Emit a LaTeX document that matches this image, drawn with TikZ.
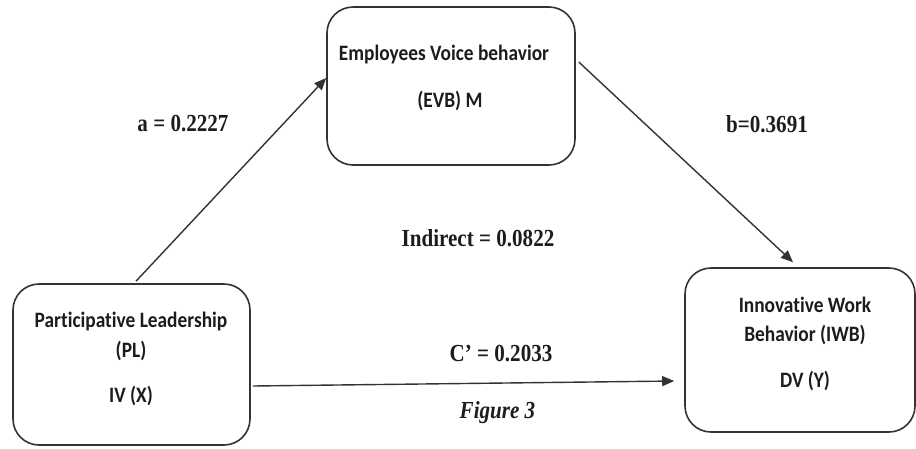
\documentclass[tikz,border=0pt]{standalone}
\usepackage{fontspec}
\usetikzlibrary{arrows.meta}
\newfontfamily\boxfont[FakeStretch=0.88,Ligatures=NoCommon]{Carlito}
\newfontfamily\lblfont[FakeStretch=0.86]{Liberation Serif}
\definecolor{ink}{HTML}{1C1C1C}
\definecolor{edge}{HTML}{333333}

\tikzset{
  varbox/.style={draw=edge, line width=1.6pt, rounded corners=26pt,
    minimum width=#1, inner sep=0pt},
  boxtext/.style={anchor=base, inner sep=0pt, text=ink,
    font=\boxfont\bfseries\fontsize{22}{26}\selectfont},
  coef/.style={anchor=base, inner sep=0pt, text=ink,
    font=\lblfont\bfseries\fontsize{24.5}{28}\selectfont},
  caption/.style={anchor=base, inner sep=0pt, text=ink,
    font=\lblfont\bfseries\itshape\fontsize{24.5}{28}\selectfont},
  path/.style={draw=edge, line width=1.4pt,
    -{Triangle[length=12pt,width=10pt]}}
}

\begin{document}
\begin{tikzpicture}[x=1pt,y=-1pt]
  \useasboundingbox (0,0) rectangle (916,448);

  % the three variables
  \node[varbox=248pt, minimum height=158pt] (evb) at (451,86) {};
  \node[varbox=237pt, minimum height=161pt] (pl)  at (131.5,364.5) {};
  \node[varbox=230pt, minimum height=164pt] (iwb) at (800,350) {};

  % box captions
  \node[boxtext] (evb1) at (444,60)  {Employees Voice behavior};
  \node[boxtext] (evb2) at (450,107) {(EVB) M};

  \node[boxtext] (pl1) at (131,327) {Participative Leadership};
  \node[boxtext] (pl2) at (131,357) {(PL)};
  \node[boxtext] (pl3) at (131,402) {IV (X)};

  \node[boxtext] (iwb1) at (805,312) {Innovative Work};
  \node[boxtext] (iwb2) at (805,341) {Behavior (IWB)};
  \node[boxtext] (iwb3) at (805,387) {DV (Y)};

  % mediation paths
  \draw[path] ([xshift=4.5pt,yshift=2pt]pl.north) -- ([yshift=8pt]evb.west);
  \draw[path] ([xshift=3pt,yshift=24pt]evb.east) -- ([xshift=-7pt,yshift=5pt]iwb.north);
  \draw[path] ([xshift=2pt,yshift=-21.5pt]pl.east) -- ([xshift=-10pt,yshift=-31pt]iwb.west);

  % path coefficients
  \node[coef] (ca) at (183,131) {a = 0.2227};
  \node[coef] (cb) at (767,132) {b=0.3691};
  \node[coef] (ci) at (478,246) {Indirect = 0.0822};
  \node[coef] (cc) at (501,361) {C’ = 0.2033};

  \node[caption] (fig) at (497.5,418) {Figure 3};
\end{tikzpicture}
\end{document}
